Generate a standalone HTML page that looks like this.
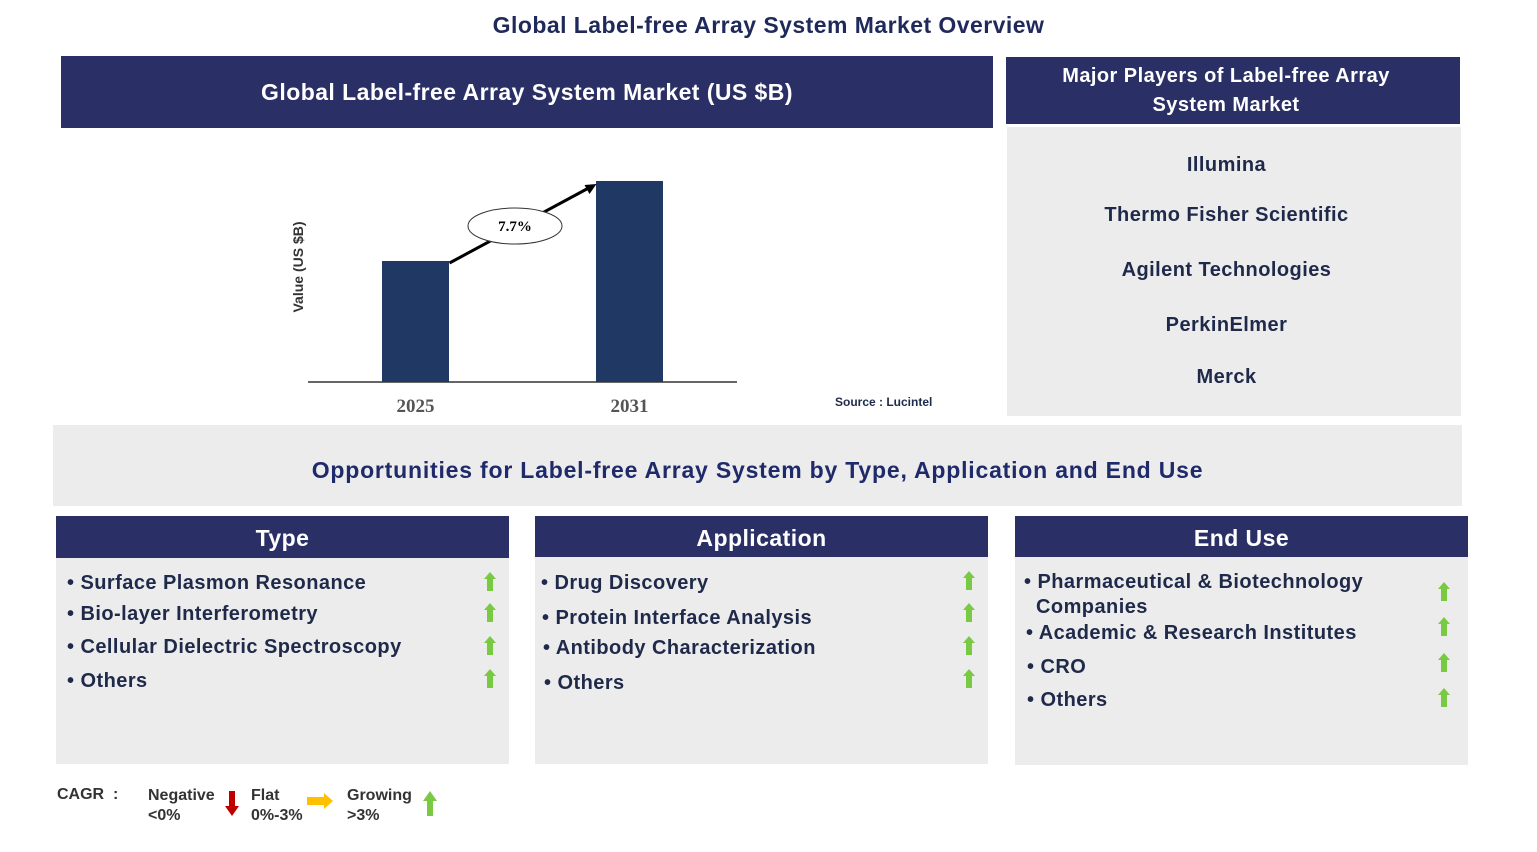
<!DOCTYPE html>
<html><head><meta charset="utf-8">
<style>
body{margin:0;width:1537px;height:852px;background:#fff;font-family:"Liberation Sans",Arial,sans-serif;position:relative;overflow:hidden;letter-spacing:0.45px}
.a{position:absolute}
.hdr{background:#2a2f66;color:#fff;font-weight:bold;text-align:center;display:flex;align-items:center;justify-content:center}
.gray{background:#ececec}
.item{position:absolute;font-weight:bold;font-size:20px;color:#1f2a4a;white-space:nowrap}
.pl{position:absolute;left:-8px;width:455px;text-align:center;font-weight:bold;font-size:20px;color:#1f2a4a}
</style></head><body>
<div class="a" style="left:0;width:1537px;top:12px;text-align:center;font-weight:bold;font-size:23px;color:#1f2a5a">Global Label-free Array System Market Overview</div>

<div class="a hdr" style="left:61px;top:56px;width:932px;height:72px;font-size:23px">Global Label-free Array System Market (US $B)</div>

<svg class="a" style="left:0;top:128px;letter-spacing:0" width="1000" height="300" id="chart"></svg>
<div class="a" style="left:835px;top:395px;font-size:12px;font-weight:bold;color:#1f2a4a;letter-spacing:0">Source : Lucintel</div>

<div class="a hdr" style="left:1006px;top:57px;width:440px;padding-right:14px;height:67px;font-size:20px;line-height:29px">Major Players of Label-free Array<br>System Market</div>
<div class="a gray" style="left:1007px;top:127px;width:454px;height:289px">
<div class="pl" style="top:27px">Illumina</div>
<div class="pl" style="top:77px">Thermo Fisher Scientific</div>
<div class="pl" style="top:132px">Agilent Technologies</div>
<div class="pl" style="top:187px">PerkinElmer</div>
<div class="pl" style="top:239px">Merck</div>
</div>

<div class="a gray" style="left:53px;top:425px;width:1409px;height:81px;display:flex;align-items:center;justify-content:center;font-weight:bold;font-size:23px;color:#1f2a6a;padding-top:9px;box-sizing:border-box;letter-spacing:0.8px">Opportunities for Label-free Array System by Type, Application and End Use</div>

<div class="a gray" style="left:56px;top:516px;width:453px;height:248px"></div>
<div class="a hdr" style="left:56px;top:516px;width:453px;height:42px;font-size:23px;padding-top:3px;box-sizing:border-box">Type</div>
<div class="a gray" style="left:535px;top:516px;width:453px;height:248px"></div>
<div class="a hdr" style="left:535px;top:516px;width:453px;height:41px;font-size:23px;padding-top:3px;box-sizing:border-box">Application</div>
<div class="a gray" style="left:1015px;top:516px;width:453px;height:249px"></div>
<div class="a hdr" style="left:1015px;top:516px;width:453px;height:41px;font-size:23px;padding-top:3px;box-sizing:border-box">End Use</div>

<div id="items"></div>

<div class="a" style="left:57px;top:786px;font-weight:bold;font-size:16px;color:#333;letter-spacing:0">CAGR &nbsp;:</div>
<div class="a" style="left:148px;top:786px;font-weight:bold;font-size:16px;color:#333;line-height:20px;letter-spacing:0">Negative<br>&lt;0%</div>
<div class="a" style="left:251px;top:786px;font-weight:bold;font-size:16px;color:#333;line-height:20px;letter-spacing:0">Flat<br>0%-3%</div>
<div class="a" style="left:347px;top:786px;font-weight:bold;font-size:16px;color:#333;line-height:20px;letter-spacing:0">Growing<br>&gt;3%</div>
<svg class="a" style="left:0;top:0" width="1537" height="852" id="icons">
<polygon points="229,791 235,791 235,806 239,806 232,816 225,806 229,806" fill="#c00000"/>
<polygon points="307,797 324,797 324,793 333,801 324,809 324,805 307,805" fill="#ffc000"/>
<polygon points="427,816 433,816 433,801 437,801 430,791 423,801 427,801" fill="#7ac943"/>
</svg>

<script>
const categories=["2025","2031"];
const values=[1.21,2.01];
const cagrLabel="7.7%";
const svg=document.getElementById('chart');
const NS="http://www.w3.org/2000/svg";
const base=254, pxPer=100;
const xC=i=>415.5+i*214;
const yV=v=>base-v*pxPer;
function mk(t,a){const e=document.createElementNS(NS,t);for(const k in a)e.setAttribute(k,a[k]);svg.appendChild(e);return e;}
let ax=mk('line',{x1:308,x2:737,y1:base,y2:base,stroke:'#333','stroke-width':1.5});


let yt=mk('text',{x:0,y:0,transform:'translate(303,139) rotate(-90)','text-anchor':'middle','font-size':14,'font-weight':'bold',fill:'#333','font-family':'Liberation Sans'});
yt.textContent='Value (US $B)';


categories.forEach((c,i)=>{
 const r=mk('rect',{x:xC(i)-33.5,y:yV(values[i]),width:67,height:values[i]*pxPer,fill:'#203864'});
 
 
 const t=mk('text',{x:xC(i),y:base+30,'text-anchor':'middle','font-size':19,'font-weight':'bold',fill:'#555','font-family':'Liberation Serif'});
 t.textContent=c;
 
 
});
const x1=xC(0)+34,y1=yV(values[0])+2,x2=xC(1)-33,y2=yV(values[1])+3;
const ar=mk('line',{x1:x1,y1:y1,x2:x2-6,y2:y2+3,stroke:'#000','stroke-width':3});


const ah=mk('polygon',{points:`${x2},${y2} ${x2-12},${y2+1} ${x2-7},${y2+10}`,fill:'#000'});


const el=mk('ellipse',{cx:515,cy:98,rx:47,ry:18,fill:'#fff',stroke:'#333','stroke-width':1});


const ct=mk('text',{x:515,y:103,'text-anchor':'middle','font-size':15,'font-weight':'bold','font-family':'Liberation Serif'});
ct.textContent=cagrLabel;



const items=[
 [67,570,"• Surface Plasmon Resonance",490,582],
 [67,601,"• Bio-layer  Interferometry",490,613],
 [67,634,"• Cellular  Dielectric  Spectroscopy",490,646],
 [67,668,"• Others",490,679],
 [541,570,"• Drug Discovery",969,581],
 [542,605,"• Protein Interface Analysis",969,613],
 [543,635,"• Antibody  Characterization",969,646],
 [544,670,"• Others",969,679],
 [1024,569,"• Pharmaceutical & Biotechnology<br>&nbsp;&nbsp;Companies",1444,592],
 [1026,620,"• Academic & Research Institutes",1444,627],
 [1027,654,"• CRO",1444,663],
 [1027,687,"• Others",1444,698]
];
const box=document.getElementById('items');
const ic=document.getElementById('icons');
items.forEach((it,i)=>{
 const d=document.createElement('div');
 d.className='item';
 d.style.left=it[0]+'px';d.style.top=(it[1]+1)+'px';d.style.lineHeight='25px';
 d.innerHTML=it[2];
 
 
 box.appendChild(d);
 const x=it[3],y=it[4];
 const p=document.createElementNS(NS,'polygon');
 p.setAttribute('points',`${x-3},${y+9} ${x+3},${y+9} ${x+3},${y-3} ${x+6},${y-3} ${x},${y-10} ${x-6},${y-3} ${x-3},${y-3}`);
 p.setAttribute('fill','#7ac943');
 
 
 ic.appendChild(p);
});
</script>
</body></html>
